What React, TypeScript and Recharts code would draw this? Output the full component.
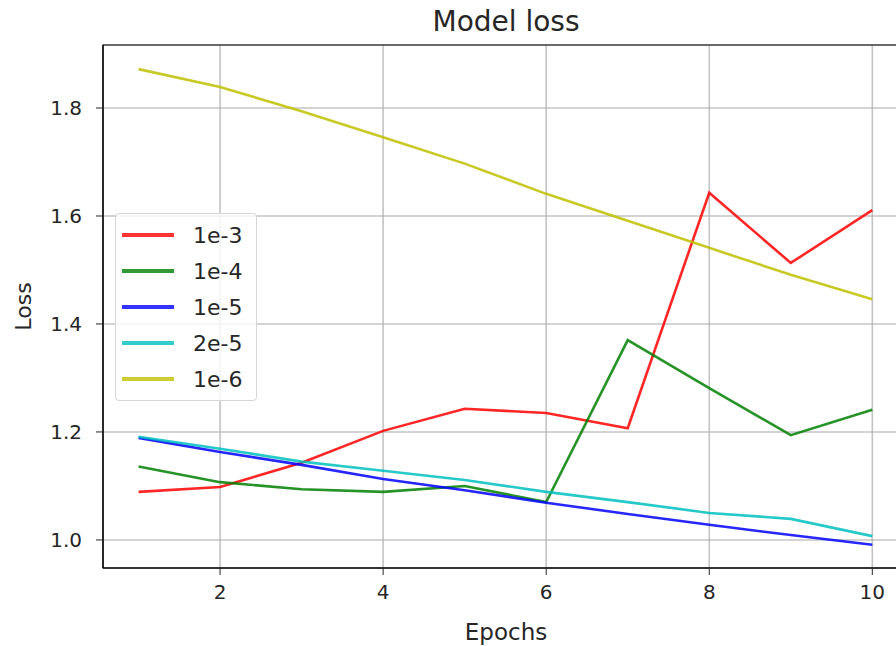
import { LineChart, Line, XAxis, YAxis, CartesianGrid, ReferenceArea } from "recharts";

const epochs = [1, 2, 3, 4, 5, 6, 7, 8, 9, 10];
const loss1e3 = [1.089, 1.098, 1.143, 1.202, 1.243, 1.235, 1.207, 1.643, 1.513, 1.611];
const loss1e4 = [1.136, 1.107, 1.094, 1.089, 1.1, 1.07, 1.37, 1.281, 1.194, 1.241];
const loss1e5 = [1.189, 1.163, 1.139, 1.113, 1.092, 1.069, 1.048, 1.028, 1.009, 0.991];
const loss2e5 = [1.191, 1.169, 1.145, 1.128, 1.111, 1.089, 1.07, 1.05, 1.039, 1.007];
const loss1e6 = [1.872, 1.839, 1.794, 1.746, 1.697, 1.641, 1.591, 1.541, 1.491, 1.446];
const xTicks = [2, 4, 6, 8, 10];
const yTicks = [1.0, 1.2, 1.4, 1.6, 1.8];

const series = [
  { key: "lr1e3", name: "1e-3", color: "#ff0000", values: loss1e3 },
  { key: "lr1e4", name: "1e-4", color: "#008000", values: loss1e4 },
  { key: "lr1e5", name: "1e-5", color: "#0000ff", values: loss1e5 },
  { key: "lr2e5", name: "2e-5", color: "#00bfbf", values: loss2e5 },
  { key: "lr1e6", name: "1e-6", color: "#bfbf00", values: loss1e6 },
];

const data = epochs.map((e, i) => {
  const row: Record<string, number> = { epoch: e };
  series.forEach((s) => (row[s.key] = s.values[i]));
  return row;
});

const xDomain: [number, number] = [0.564, 10.45];
const yDomain: [number, number] = [0.948, 1.9167];
const font = "'DejaVu Sans', sans-serif";
const ink = "#262626";

function LegendBox() {
  return (
    <div
      style={{
        position: "absolute",
        left: 115,
        top: 213,
        width: 140,
        padding: "3px 0",
        border: "1px solid #d6d6d6",
        borderRadius: 4,
        background: "rgba(255,255,255,0.8)",
        fontFamily: font,
        fontSize: 22,
        color: ink,
      }}
    >
      {series.map((s) => (
        <div key={s.key} style={{ display: "flex", alignItems: "center", height: 36 }}>
          <div style={{ width: 52, height: 3.5, background: s.color, opacity: 0.8, marginLeft: 6, marginRight: 19 }} />
          <span>{s.name}</span>
        </div>
      ))}
    </div>
  );
}

export default function App() {
  return (
    <div
      style={{
        position: "absolute",
        left: 0,
        top: 0,
        width: 896,
        height: 646,
        overflow: "hidden",
        background: "#fff",
        fontFamily: font,
      }}
    >
      <div
        style={{
          position: "absolute",
          left: 103,
          width: 806,
          top: 8,
          textAlign: "center",
          fontSize: 28,
          lineHeight: 1,
          color: ink,
        }}
      >
        Model loss
      </div>
      <LineChart width={920} height={646} data={data} margin={{ top: 45, right: 11, bottom: 0, left: 0 }}>
        <CartesianGrid stroke="#b0b0b0" strokeOpacity={0.75} strokeWidth={1.6} />
        <XAxis
          dataKey="epoch"
          type="number"
          domain={xDomain}
          ticks={xTicks}
          allowDataOverflow
          height={78}
          tickSize={7}
          tickMargin={10}
          tick={{ fill: ink, fontSize: 20, fontFamily: font }}
          stroke="#000"
          tickLine={{ stroke: ink }}
          label={{ value: "Epochs", position: "insideBottom", offset: 6, fill: ink, fontSize: 23, fontFamily: font }}
        />
        <YAxis
          type="number"
          domain={yDomain}
          ticks={yTicks}
          allowDataOverflow
          width={103}
          tickSize={7}
          tickMargin={14}
          tickFormatter={(v: number) => v.toFixed(1)}
          tick={{ fill: ink, fontSize: 20, fontFamily: font }}
          stroke="#000"
          tickLine={{ stroke: ink }}
          label={{
            value: "Loss",
            angle: -90,
            position: "insideLeft",
            offset: 23,
            fill: ink,
            fontSize: 22,
            fontFamily: font,
            style: { textAnchor: "middle" },
          }}
        />
        <ReferenceArea x1={xDomain[0]} x2={xDomain[1]} y1={yDomain[0]} y2={yDomain[1]} fill="none" stroke="#000" strokeWidth={1.2} />
        {series.map((s) => (
          <Line
            key={s.key}
            dataKey={s.key}
            name={s.name}
            type="linear"
            stroke={s.color}
            strokeOpacity={0.85}
            strokeWidth={2.6}
            dot={false}
            isAnimationActive={false}
          />
        ))}
      </LineChart>
      <LegendBox />
    </div>
  );
}
